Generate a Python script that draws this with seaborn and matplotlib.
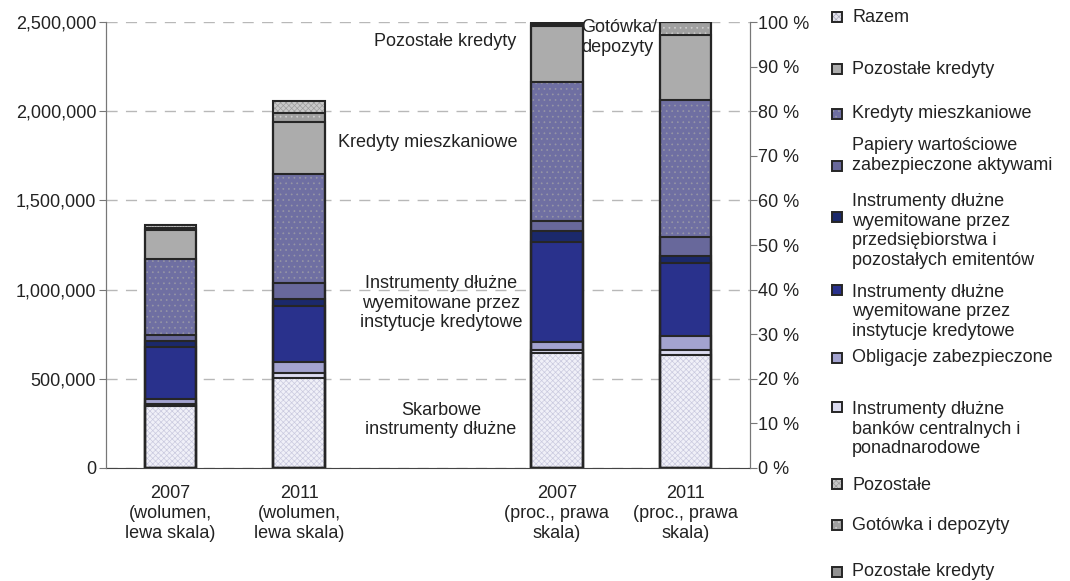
#Import required libraries
import pandas as pd
import matplotlib
matplotlib.use("Agg")
import matplotlib.pyplot as plt
import seaborn as sns
from matplotlib.patches import Rectangle

sns.set_style("white")
plt.rcParams['font.family'] = ['Liberation Sans', 'DejaVu Sans']
plt.rcParams['hatch.linewidth'] = 0.5

# categories on the x axis (middle one is an empty gap)
order = ['v2007', 'v2011', 'gap', 'p2007', 'p2011']
x_labels = ['2007\n(wolumen,\nlewa skala)', '2011\n(wolumen,\nlewa skala)', '',
            '2007\n(proc., prawa\nskala)', '2011\n(proc., prawa\nskala)']

# segments from bottom to top
segments = ['Skarbowe instrumenty dłużne',
            'Instrumenty dłużne banków centralnych i ponadnarodowe',
            'Obligacje zabezpieczone',
            'Instrumenty dłużne wyemitowane przez instytucje kredytowe',
            'Instrumenty dłużne wyemitowane przez przedsiębiorstwa i pozostałych emitentów',
            'Papiery wartościowe zabezpieczone aktywami',
            'Kredyty mieszkaniowe',
            'Pozostałe kredyty',
            'Gotówka i depozyty',
            'Pozostałe']

# volumes (left scale)
vol_2007 = [345000, 15000, 26000, 295000, 33000, 32000, 426000, 163000, 13000, 15000]
vol_2011 = [506000, 25000, 65000, 314000, 36000, 89000, 611000, 292000, 54000, 65000]
# shares in % (right scale)
pct_2007 = [25.7, 0.8, 1.8, 22.3, 2.6, 2.2, 31.2, 12.5, 0.45, 0.45]
pct_2011 = [25.3, 1.1, 3.2, 16.4, 1.6, 4.3, 30.6, 14.7, 2.8, 0.0]

# styles per segment
colors = ['#f0f0f8', '#dcdcf0', '#a3a3cf', '#29318c', '#1b296b',
          '#68689b', '#6f6fa2', '#acacac', '#a0a0a0', '#c9c9c9']
hatches = ['xxxxxx', None, None, None, None, None, '...', None, '...', 'xxxxxx']
hatch_colors = ['#cacadf', '#dcdcf0', '#a3a3cf', '#29318c', '#1b296b',
                '#68689b', '#9696a6', '#acacac', '#cfcfcf', '#9c9c9c']
EDGE = '#262626'
TXT = '#222222'
FS = 13

vol_df = pd.DataFrame({'v2007': vol_2007, 'v2011': vol_2011}, index=segments)
pct_df = pd.DataFrame({'p2007': pct_2007, 'p2011': pct_2011}, index=segments)

fig = plt.figure(figsize=(10.7, 5.81), dpi=100)
ax = fig.add_axes([0.099, 0.1945, 0.602, 0.7675])
ax2 = ax.twinx()


def stacked(axis, df):
    cum = df.cumsum()
    long = cum.reset_index(names='segment').melt(id_vars='segment', var_name='kat', value_name='cum')
    # filled layers, tallest first so the lower ones cover them
    for i in reversed(range(len(segments))):
        part = long[long['segment'] == segments[i]]
        sns.barplot(data=part, x='kat', y='cum', order=order, color=colors[i], saturation=1,
                    edgecolor=hatch_colors[i], hatch=hatches[i], linewidth=0, width=0.4,
                    errorbar=None, ax=axis, zorder=2)
    # outlines of every segment
    for i in range(len(segments)):
        part = long[long['segment'] == segments[i]]
        sns.barplot(data=part, x='kat', y='cum', order=order, fill=False, color=EDGE,
                    saturation=1, linewidth=1.5, width=0.4, errorbar=None, ax=axis, zorder=3)


stacked(ax, vol_df)
stacked(ax2, pct_df)

# left axis
ax.set_ylim(0, 2500000)
ax.set_yticks(range(0, 2500001, 500000))
ax.set_yticklabels([f'{v:,}' for v in range(0, 2500001, 500000)])
ax.set_axisbelow(True)
ax.yaxis.grid(True, linestyle=(0, (8, 6)), color='#b8b8b8', linewidth=1)
ax.set_ylabel('')
ax.set_xlabel('')

# right axis
ax2.set_ylim(0, 100)
ax2.set_yticks(range(0, 101, 10))
ax2.set_yticklabels([f'{v} %' for v in range(0, 101, 10)])
ax2.set_ylabel('')
ax2.set_xlabel('')

# x axis: ticks at the category boundaries, labels in between
ax.set_xlim(-0.5, 4.5)
ax.set_xticks([-0.5, 0.5, 1.5, 2.5, 3.5, 4.5])
ax.set_xticklabels([])
ax.set_xticks(range(5), minor=True)
ax.set_xticklabels(x_labels, minor=True, linespacing=1.25)
ax.tick_params(axis='x', which='major', direction='out', length=6, color='#555555', width=1)
ax.tick_params(axis='x', which='minor', length=0, pad=12, labelsize=FS, labelcolor=TXT)
ax.tick_params(axis='y', direction='out', length=5, color='#777777', labelsize=FS, labelcolor=TXT, pad=2)
ax2.tick_params(axis='y', direction='out', length=5, color='#777777', labelsize=FS, labelcolor=TXT, pad=1)

for a in (ax, ax2):
    a.spines['top'].set_visible(False)
    a.spines['left'].set_color('#777777')
    a.spines['right'].set_color('#777777')
    a.spines['bottom'].set_color('#444444')
ax2.spines['bottom'].set_visible(False)

# labels inside the plot
kw = dict(fontsize=FS, color=TXT, linespacing=1.2)
ax.text(2.13, 2390000, 'Pozostałe kredyty', ha='center', va='center', **kw)
ax.text(3.19, 2413000, 'Gotówka/\ndepozyty', ha='left', va='center', zorder=5, **kw)
ax.text(2.0, 1827000, 'Kredyty mieszkaniowe', ha='center', va='center', **kw)
ax.text(2.1, 925000, 'Instrumenty dłużne\nwyemitowane przez\ninstytucje kredytowe', ha='center', va='center', **kw)
ax.text(2.1, 269000, 'Skarbowe\ninstrumenty dłużne', ha='center', va='center', **kw)

# legend drawn by hand (as in the original, uneven spacing)
W, H = 1070, 581
leg_labels = ['Razem', 'Pozostałe kredyty', 'Kredyty mieszkaniowe',
              'Papiery wartościowe\nzabezpieczone aktywami',
              'Instrumenty dłużne\nwyemitowane przez\nprzedsiębiorstwa i\npozostałych emitentów',
              'Instrumenty dłużne\nwyemitowane przez\ninstytucje kredytowe',
              'Obligacje zabezpieczone',
              'Instrumenty dłużne\nbanków centralnych i\nponadnarodowe',
              'Pozostałe', 'Gotówka i depozyty', 'Pozostałe kredyty']
leg_faces = ['#e4e4ec', '#acacac', '#6f6fa2', '#68689b', '#1b296b', '#29318c',
             '#a3a3cf', '#dcdcf0', '#c9c9c9', '#a0a0a0', '#939393']
leg_hatch = ['xxxxxx', None, '...', None, None, None, None, None, 'xxxxxx', '...', None]
leg_hcol = ['#a8a8b8', '#acacac', '#9696a6', '#68689b', '#1b296b', '#29318c',
            '#a3a3cf', '#dcdcf0', '#9c9c9c', '#cfcfcf', '#939393']
leg_text_y = [17, 69, 113, 155.5, 231, 312, 358, 429, 485, 526, 571]
leg_mark_y = [17, 69, 114, 166, 217, 290, 358, 407, 484, 525, 572]

for lab, fc, ht, hc, ty, my in zip(leg_labels, leg_faces, leg_hatch, leg_hcol, leg_text_y, leg_mark_y):
    fig.add_artist(Rectangle((832 / W, 1 - (my + 5) / H), 10 / W, 10 / H,
                             transform=fig.transFigure, facecolor=fc, hatch=ht,
                             edgecolor=hc, linewidth=0))
    fig.add_artist(Rectangle((832 / W, 1 - (my + 5) / H), 10 / W, 10 / H,
                             transform=fig.transFigure, fill=False,
                             edgecolor=EDGE, linewidth=1.4))
    fig.text(852 / W, 1 - ty / H, lab, ha='left', va='center', fontsize=FS,
             color=TXT, linespacing=1.2)

fig.savefig('out.png', dpi=100)
